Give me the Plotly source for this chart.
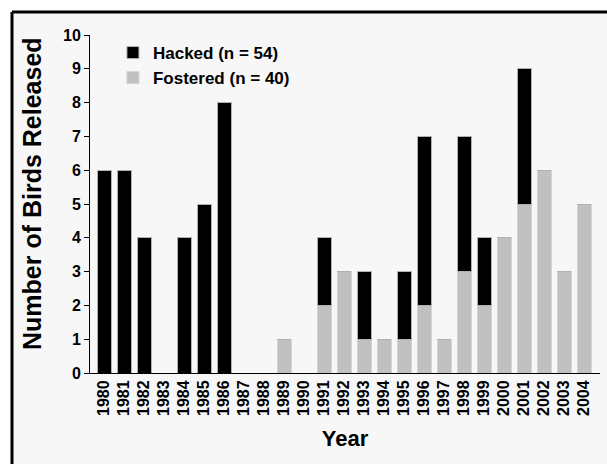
import plotly.graph_objects as go

years = [str(y) for y in range(1980, 2005)]
hacked = [6, 6, 4, 0, 4, 5, 8, 0, 0, 0, 0, 2, 0, 2, 0, 2, 5, 0, 4, 2, 0, 4, 0, 0, 0]
fostered = [0, 0, 0, 0, 0, 0, 0, 0, 0, 1, 0, 2, 3, 1, 1, 1, 2, 1, 3, 2, 4, 5, 6, 3, 5]
series_names = ["Hacked (n = 54)", "Fostered (n = 40)"]
y_ticks = list(range(0, 11))
y_title = "Number of Birds Released"
x_title = "Year"

FONT = "Liberation Sans, Arial, sans-serif"

# pixel -> paper helpers (plot area: x 90..600, y 35..373)
def px(x):
    return (x - 90) / 510

def py(y):
    return (373 - y) / 338

fig = go.Figure()
fig.add_trace(go.Bar(x=years, y=fostered, name=series_names[1],
                     marker=dict(color="#c0c0c0", line=dict(color="#d4d4d4", width=1))))
fig.add_trace(go.Bar(x=years, y=hacked, name=series_names[0],
                     marker=dict(color="#000000", line=dict(color="#b0b0b0", width=1))))

fig.update_layout(
    width=607, height=464,
    margin=dict(l=90, r=7, t=35, b=91),
    barmode="stack", bargap=0.3,
    paper_bgcolor="#f7f7f7", plot_bgcolor="#f7f7f7",
    font=dict(family=FONT, color="#000000", weight="bold"),
    showlegend=True,
    legend=dict(x=0.045, y=1.0, xanchor="left", yanchor="top",
                traceorder="reversed", bgcolor="rgba(0,0,0,0)",
                font=dict(size=17, family=FONT, weight="bold"), tracegroupgap=0),
    shapes=[
        dict(type="rect", xref="paper", yref="paper", layer="below",
             x0=px(-5), x1=px(607), y0=py(12), y1=py(-5),
             fillcolor="#ffffff", line=dict(width=0)),
        dict(type="rect", xref="paper", yref="paper", layer="below",
             x0=px(-5), x1=px(12), y0=py(464), y1=py(-5),
             fillcolor="#ffffff", line=dict(width=0)),
        dict(type="line", xref="paper", yref="paper", layer="below",
             x0=px(12), x1=px(607), y0=py(12), y1=py(12),
             line=dict(color="#000000", width=3)),
        dict(type="line", xref="paper", yref="paper", layer="below",
             x0=px(12), x1=px(12), y0=py(12), y1=py(464),
             line=dict(color="#000000", width=3)),
    ],
    annotations=[dict(text=y_title, xref="paper", yref="paper", x=px(32), y=py(194),
                      textangle=-90, showarrow=False, xanchor="center", yanchor="middle",
                      font=dict(size=25, family=FONT, weight="bold"))],
)
fig.update_xaxes(type="category", range=[-0.7, 24.8], showline=True, linecolor="#000000",
                 linewidth=1, ticks="", tickangle=-90, showgrid=False, zeroline=False,
                 tickfont=dict(size=16, family=FONT, weight="bold"),
                 title=dict(text=x_title, font=dict(size=22, family=FONT, weight="bold"), standoff=15))
fig.update_yaxes(range=[0, 10], tickvals=y_ticks, showline=True, linecolor="#000000", linewidth=1,
                 ticks="outside", ticklen=5, tickcolor="#000000", showgrid=False, zeroline=False,
                 tickfont=dict(size=16, family=FONT, weight="bold"))

fig.write_html(
    "out.html", config={"displayModeBar": False},
    post_script=("document.documentElement.style.overflow='hidden';"
                 "document.documentElement.style.background='#f7f7f7';"
                 "document.body.style.margin='0px';document.body.style.overflow='hidden';"))
